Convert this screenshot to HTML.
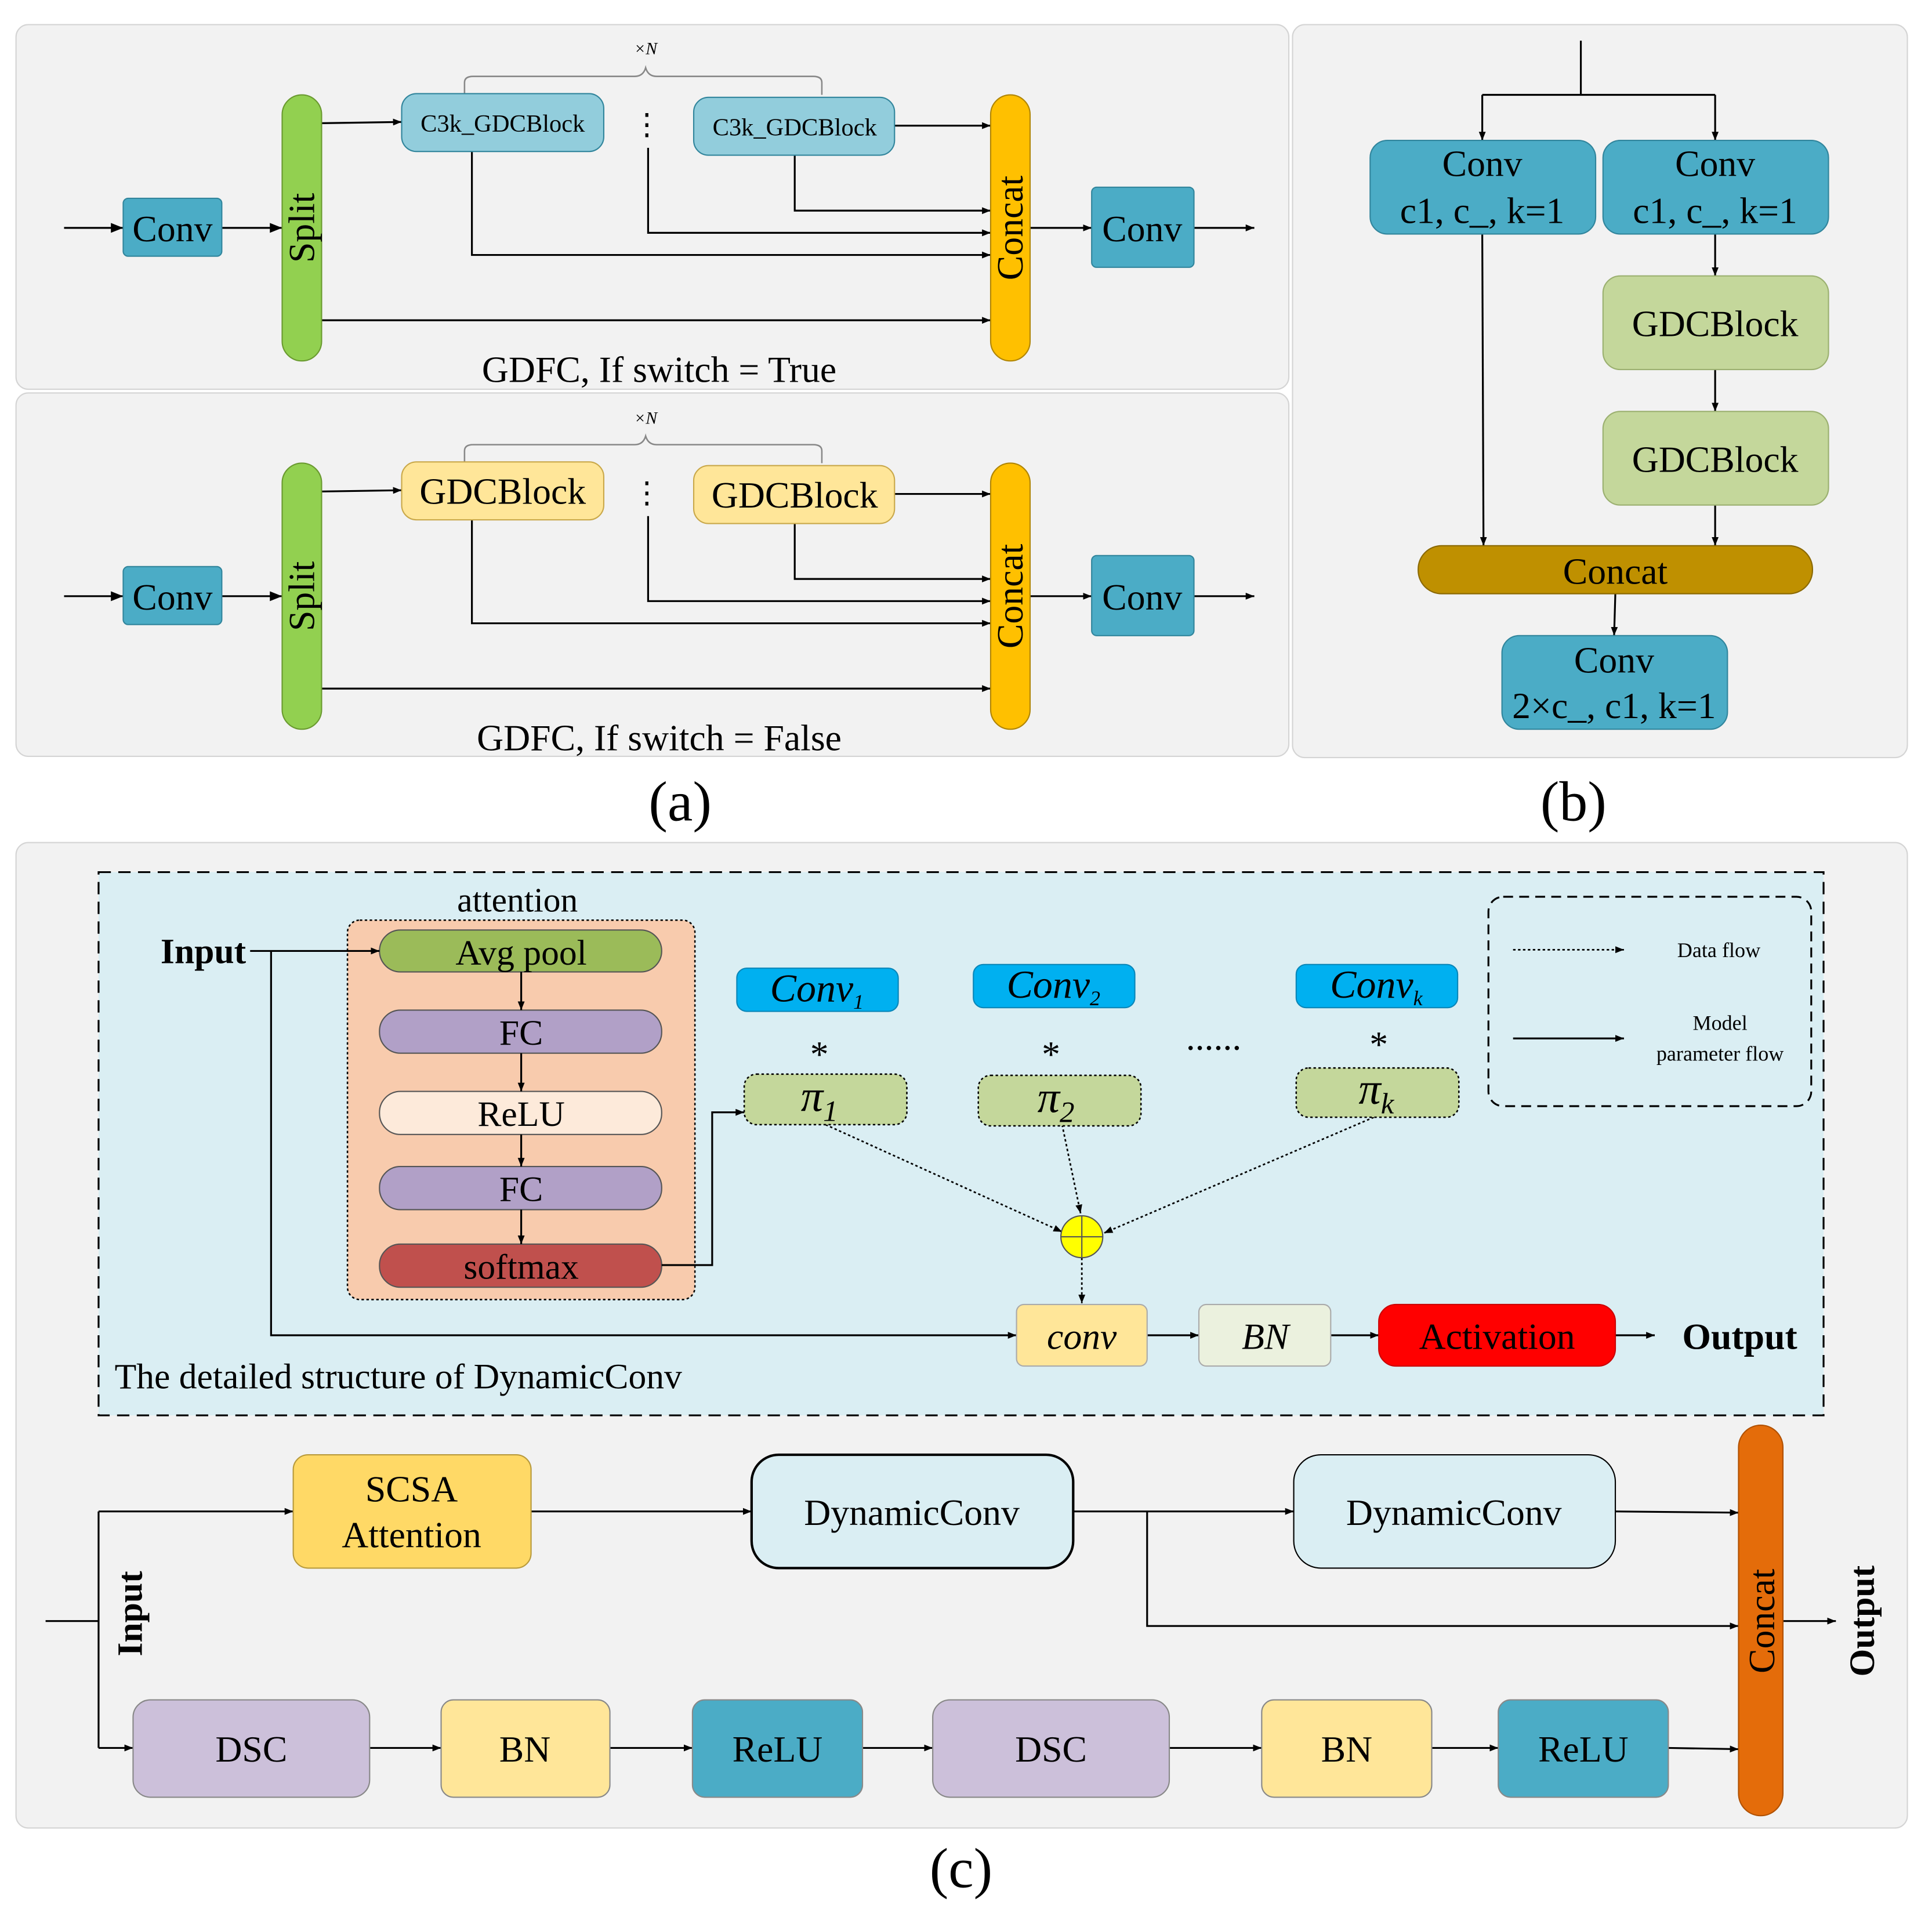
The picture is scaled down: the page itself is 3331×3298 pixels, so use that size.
<!DOCTYPE html>
<html><head><meta charset="utf-8">
<style>
html,body{margin:0;padding:0;background:#fff;}
svg{display:block;}
text{font-family:"Liberation Serif","Times New Roman",serif;}
</style></head>
<body>
<svg width="3331" height="3298" viewBox="0 0 1568 1553" preserveAspectRatio="none" xmlns="http://www.w3.org/2000/svg">
<defs>
<marker id="ar" viewBox="0 0 10 10" refX="10" refY="5" markerWidth="7" markerHeight="7" orient="auto" markerUnits="userSpaceOnUse">
<path d="M0,1 L10,5 L0,9 z" fill="#000"/></marker>
<marker id="ar2" viewBox="0 0 10 10" refX="10" refY="5" markerWidth="12" markerHeight="10" orient="auto" markerUnits="userSpaceOnUse">
<path d="M0,1 L10,5 L0,9 z" fill="#000"/></marker>
</defs>
<rect width="1600" height="1600" fill="#fff"/>
<rect x="13" y="20" width="1033" height="296" rx="10" fill="#f2f2f2" stroke="#d4d4d4"/>
<rect x="13" y="319" width="1033" height="295" rx="10" fill="#f2f2f2" stroke="#d4d4d4"/>
<rect x="1049" y="20" width="499" height="595" rx="10" fill="#f2f2f2" stroke="#d4d4d4"/>
<rect x="13" y="684" width="1535" height="800" rx="10" fill="#f2f2f2" stroke="#d4d4d4"/>
<text x="552" y="666" font-size="46" text-anchor="middle">(a)</text>
<text x="1277" y="666" font-size="46" text-anchor="middle">(b)</text>
<text x="780" y="1532" font-size="46" text-anchor="middle">(c)</text>

<g stroke="#000" stroke-width="1.5" fill="none">
<line x1="52" y1="185" x2="100" y2="185" marker-end="url(#ar2)"/>
<line x1="180" y1="185" x2="229" y2="185" marker-end="url(#ar2)"/>
<line x1="261" y1="100" x2="326" y2="99" marker-end="url(#ar)"/>
<line x1="726" y1="102" x2="804" y2="102" marker-end="url(#ar)"/>
<polyline points="645,126 645,171 804,171" marker-end="url(#ar)"/>
<polyline points="526,120 526,189 804,189" marker-end="url(#ar)"/>
<polyline points="383,123 383,207 804,207" marker-end="url(#ar)"/>
<line x1="261" y1="260" x2="804" y2="260" marker-end="url(#ar)"/>
<line x1="836" y1="185" x2="886" y2="185" marker-end="url(#ar)"/>
<line x1="969" y1="185" x2="1018" y2="185" marker-end="url(#ar)"/>
<line x1="52" y1="484" x2="100" y2="484" marker-end="url(#ar2)"/>
<line x1="180" y1="484" x2="229" y2="484" marker-end="url(#ar2)"/>
<line x1="261" y1="399" x2="326" y2="398" marker-end="url(#ar)"/>
<line x1="726" y1="401" x2="804" y2="401" marker-end="url(#ar)"/>
<polyline points="645,425 645,470 804,470" marker-end="url(#ar)"/>
<polyline points="526,419 526,488 804,488" marker-end="url(#ar)"/>
<polyline points="383,422 383,506 804,506" marker-end="url(#ar)"/>
<line x1="261" y1="559" x2="804" y2="559" marker-end="url(#ar)"/>
<line x1="836" y1="484" x2="886" y2="484" marker-end="url(#ar)"/>
<line x1="969" y1="484" x2="1018" y2="484" marker-end="url(#ar)"/>
<polyline points="1283,33 1283,77"/>
<line x1="1203" y1="77" x2="1392" y2="77"/>
<line x1="1203" y1="77" x2="1203" y2="114" marker-end="url(#ar)"/>
<line x1="1392" y1="77" x2="1392" y2="114" marker-end="url(#ar)"/>
<line x1="1203" y1="190" x2="1204" y2="443" marker-end="url(#ar)"/>
<line x1="1392" y1="190" x2="1392" y2="224" marker-end="url(#ar)"/>
<line x1="1392" y1="300" x2="1392" y2="334" marker-end="url(#ar)"/>
<line x1="1392" y1="410" x2="1392" y2="443" marker-end="url(#ar)"/>
<line x1="1311" y1="482" x2="1310" y2="516" marker-end="url(#ar)"/>
</g>
<g stroke="#888" stroke-width="1.2" fill="none">
<path d="M377,77 L377,67 Q377,62 384,62 L515,62 Q522,62 524,55 Q526,62 533,62 L660,62 Q667,62 667,67 L667,77"/>
<path d="M377,376 L377,366 Q377,361 384,361 L515,361 Q522,361 524,354 Q526,361 533,361 L660,361 Q667,361 667,366 L667,376"/>
</g>
<text x="524" y="44" font-size="14" font-style="italic" text-anchor="middle">×N</text>
<text x="524" y="344" font-size="14" font-style="italic" text-anchor="middle">×N</text>
<text x="525" y="109" font-size="24" text-anchor="middle">⋮</text>
<text x="525" y="408" font-size="24" text-anchor="middle">⋮</text>

<g stroke="#31859c" stroke-width="1">
<rect x="100" y="161" width="80" height="47" rx="4" fill="#4bacc6"/>
<rect x="886" y="152" width="83" height="65" rx="4" fill="#4bacc6"/>
<rect x="100" y="460" width="80" height="47" rx="4" fill="#4bacc6"/>
<rect x="886" y="451" width="83" height="65" rx="4" fill="#4bacc6"/>
<rect x="326" y="76" width="164" height="47" rx="12" fill="#92cddc"/>
<rect x="563" y="79" width="163" height="47" rx="12" fill="#92cddc"/>
</g>
<rect x="229" y="77" width="32" height="216" rx="16" fill="#92d050" stroke="#6a9a30"/>
<rect x="804" y="77" width="32" height="216" rx="16" fill="#ffc000" stroke="#b08500"/>
<rect x="229" y="376" width="32" height="216" rx="16" fill="#92d050" stroke="#6a9a30"/>
<rect x="804" y="376" width="32" height="216" rx="16" fill="#ffc000" stroke="#b08500"/>
<rect x="326" y="375" width="164" height="47" rx="12" fill="#ffe699" stroke="#c9a84a"/>
<rect x="563" y="378" width="163" height="47" rx="12" fill="#ffe699" stroke="#c9a84a"/>
<g font-size="30" text-anchor="middle">
<text x="140" y="196">Conv</text><text x="927" y="196">Conv</text>
<text x="140" y="495">Conv</text><text x="927" y="495">Conv</text>
<text x="408" y="409">GDCBlock</text><text x="645" y="412">GDCBlock</text>
<text transform="translate(255,185) rotate(-90)">Split</text>
<text transform="translate(830,185) rotate(-90)">Concat</text>
<text transform="translate(255,484) rotate(-90)">Split</text>
<text transform="translate(830,484) rotate(-90)">Concat</text>
</g>
<g font-size="20" text-anchor="middle">
<text x="408" y="107">C3k_GDCBlock</text><text x="645" y="110">C3k_GDCBlock</text>
</g>
<text x="535" y="310" font-size="30" text-anchor="middle">GDFC, If switch = True</text>
<text x="535" y="609" font-size="30" text-anchor="middle">GDFC, If switch = False</text>

<g stroke="#31859c">
<rect x="1112" y="114" width="183" height="76" rx="14" fill="#4bacc6"/>
<rect x="1301" y="114" width="183" height="76" rx="14" fill="#4bacc6"/>
<rect x="1219" y="516" width="183" height="76" rx="14" fill="#4bacc6"/>
</g>
<rect x="1301" y="224" width="183" height="76" rx="14" fill="#c4d79b" stroke="#9bb070"/>
<rect x="1301" y="334" width="183" height="76" rx="14" fill="#c4d79b" stroke="#9bb070"/>
<rect x="1151" y="443" width="320" height="39" rx="19" fill="#bf9000" stroke="#8a6800"/>
<g font-size="30" text-anchor="middle">
<text x="1203" y="143">Conv</text><text x="1203" y="181">c1, c_, k=1</text>
<text x="1392" y="143">Conv</text><text x="1392" y="181">c1, c_, k=1</text>
<text x="1392" y="273">GDCBlock</text><text x="1392" y="383">GDCBlock</text>
<text x="1311" y="474">Concat</text>
<text x="1310" y="546">Conv</text><text x="1310" y="583">2×c_, c1, k=1</text>
</g>

<rect x="80" y="708" width="1400" height="441" fill="#daeef3" stroke="#000" stroke-width="1.5" stroke-dasharray="10,6"/>
<text x="420" y="740" font-size="28" text-anchor="middle">attention</text>
<rect x="282" y="747" width="282" height="308" rx="10" fill="#f8cbad" stroke="#000" stroke-width="1.2" stroke-dasharray="2,2"/>
<g stroke="#555" stroke-width="1">
<rect x="308" y="755" width="229" height="34" rx="17" fill="#9bbb59"/>
<rect x="308" y="820" width="229" height="35" rx="17" fill="#b1a0c7"/>
<rect x="308" y="886" width="229" height="35" rx="17" fill="#fdeada"/>
<rect x="308" y="947" width="229" height="35" rx="17" fill="#b1a0c7"/>
<rect x="308" y="1010" width="229" height="35" rx="17" fill="#c0504d"/>
</g>
<g font-size="29" text-anchor="middle">
<text x="423" y="783">Avg pool</text><text x="423" y="848">FC</text>
<text x="423" y="914">ReLU</text><text x="423" y="975">FC</text><text x="423" y="1038">softmax</text>
</g>
<g stroke="#000" stroke-width="1.5" fill="none">
<line x1="423" y1="789" x2="423" y2="820" marker-end="url(#ar)"/>
<line x1="423" y1="855" x2="423" y2="886" marker-end="url(#ar)"/>
<line x1="423" y1="921" x2="423" y2="947" marker-end="url(#ar)"/>
<line x1="423" y1="982" x2="423" y2="1010" marker-end="url(#ar)"/>
<line x1="203" y1="772" x2="308" y2="772" marker-end="url(#ar)"/>
<polyline points="220,772 220,1084 825,1084" marker-end="url(#ar)"/>
<polyline points="537,1027 578,1027 578,903 604,903" marker-end="url(#ar)"/>
<line x1="931" y1="1084" x2="973" y2="1084" marker-end="url(#ar)"/>
<line x1="1080" y1="1084" x2="1119" y2="1084" marker-end="url(#ar)"/>
<line x1="1311" y1="1084" x2="1343" y2="1084" marker-end="url(#ar)"/>
<line x1="1228" y1="843" x2="1318" y2="843" marker-end="url(#ar)"/>
</g>
<g stroke="#000" stroke-width="1.3" fill="none" stroke-dasharray="2,2">
<line x1="670" y1="913" x2="862" y2="1000" marker-end="url(#ar)"/>
<line x1="862" y1="913" x2="877" y2="985" marker-end="url(#ar)"/>
<line x1="1115" y1="907" x2="896" y2="1001" marker-end="url(#ar)"/>
<line x1="878" y1="1021" x2="878" y2="1058" marker-end="url(#ar)"/>
<line x1="1228" y1="771" x2="1318" y2="771" marker-end="url(#ar)"/>
</g>
<text x="165" y="782" font-size="29" font-weight="bold" text-anchor="middle">Input</text>
<g fill="#00b0f0" stroke="#0a86b8">
<rect x="598" y="786" width="131" height="35" rx="8"/>
<rect x="790" y="783" width="131" height="35" rx="8"/>
<rect x="1052" y="783" width="131" height="35" rx="8"/>
</g>
<g font-size="32" font-style="italic" text-anchor="middle">
<text x="663" y="813">Conv<tspan font-size="17" dy="6">1</tspan></text>
<text x="855" y="810">Conv<tspan font-size="17" dy="6">2</tspan></text>
<text x="1117" y="810">Conv<tspan font-size="17" dy="6">k</tspan></text>
</g>
<g font-size="30" text-anchor="middle">
<text x="665" y="866">*</text><text x="853" y="866">*</text><text x="1119" y="858">*</text>
<text x="985" y="852">......</text>
</g>
<g fill="#c4d79b" stroke="#000" stroke-width="1.2" stroke-dasharray="2,2">
<rect x="604" y="872" width="132" height="41" rx="10"/>
<rect x="794" y="873" width="132" height="41" rx="10"/>
<rect x="1052" y="867" width="132" height="40" rx="10"/>
</g>
<g font-size="36" font-style="italic" text-anchor="middle">
<text x="665" y="902">π<tspan font-size="24" dy="8">1</tspan></text>
<text x="857" y="903">π<tspan font-size="24" dy="8">2</tspan></text>
<text x="1117" y="896">π<tspan font-size="24" dy="8">k</tspan></text>
</g>
<circle cx="878" cy="1004" r="17" fill="#ffff00" stroke="#555"/>
<line x1="861" y1="1004" x2="895" y2="1004" stroke="#555"/>
<line x1="878" y1="987" x2="878" y2="1021" stroke="#555"/>
<rect x="825" y="1059" width="106" height="50" rx="6" fill="#ffe699" stroke="#aaa"/>
<rect x="973" y="1059" width="107" height="50" rx="6" fill="#ebf1de" stroke="#aaa"/>
<rect x="1119" y="1059" width="192" height="50" rx="14" fill="#ff0000" stroke="#c00"/>
<text x="878" y="1095" font-size="30" font-style="italic" text-anchor="middle">conv</text>
<text x="1027" y="1095" font-size="30" font-style="italic" text-anchor="middle">BN</text>
<text x="1215" y="1095" font-size="30" text-anchor="middle">Activation</text>
<text x="1412" y="1095" font-size="30" font-weight="bold" text-anchor="middle">Output</text>
<rect x="1208" y="728" width="262" height="170" rx="12" fill="none" stroke="#000" stroke-width="1.5" stroke-dasharray="8,5"/>
<g font-size="17" text-anchor="middle">
<text x="1395" y="777">Data flow</text>
<text x="1396" y="836">Model</text>
<text x="1396" y="861">parameter flow</text>
</g>
<text x="93" y="1127" font-size="29">The detailed structure of DynamicConv</text>

<g stroke="#000" stroke-width="1.5" fill="none">
<line x1="37" y1="1316" x2="80" y2="1316"/>
<line x1="80" y1="1227" x2="80" y2="1419"/>
<line x1="80" y1="1227" x2="238" y2="1227" marker-end="url(#ar)"/>
<line x1="80" y1="1419" x2="108" y2="1419" marker-end="url(#ar)"/>
<line x1="431" y1="1227" x2="610" y2="1227" marker-end="url(#ar)"/>
<line x1="871" y1="1227" x2="1050" y2="1227" marker-end="url(#ar)"/>
<line x1="1311" y1="1227" x2="1411" y2="1228" marker-end="url(#ar)"/>
<polyline points="931,1227 931,1320 1411,1320" marker-end="url(#ar)"/>
<line x1="1447" y1="1316" x2="1490" y2="1316" marker-end="url(#ar)"/>
<line x1="300" y1="1419" x2="358" y2="1419" marker-end="url(#ar)"/>
<line x1="495" y1="1419" x2="562" y2="1419" marker-end="url(#ar)"/>
<line x1="700" y1="1419" x2="757" y2="1419" marker-end="url(#ar)"/>
<line x1="949" y1="1419" x2="1024" y2="1419" marker-end="url(#ar)"/>
<line x1="1162" y1="1419" x2="1216" y2="1419" marker-end="url(#ar)"/>
<line x1="1354" y1="1419" x2="1411" y2="1420" marker-end="url(#ar)"/>
</g>
<text transform="translate(115,1310) rotate(-90)" font-size="29" font-weight="bold" text-anchor="middle">Input</text>
<text transform="translate(1521,1316) rotate(-90)" font-size="29" font-weight="bold" text-anchor="middle">Output</text>
<rect x="238" y="1181" width="193" height="92" rx="12" fill="#ffd966" stroke="#b89a3c"/>
<rect x="610" y="1181" width="261" height="92" rx="22" fill="#daeef3" stroke="#000" stroke-width="2"/>
<rect x="1050" y="1181" width="261" height="92" rx="22" fill="#daeef3" stroke="#000" stroke-width="1"/>
<rect x="1411" y="1157" width="36" height="317" rx="18" fill="#e46c0a" stroke="#b05000"/>
<g stroke="#888">
<rect x="108" y="1380" width="192" height="79" rx="14" fill="#ccc0da"/>
<rect x="358" y="1380" width="137" height="79" rx="10" fill="#ffe699"/>
<rect x="562" y="1380" width="138" height="79" rx="10" fill="#4bacc6"/>
<rect x="757" y="1380" width="192" height="79" rx="14" fill="#ccc0da"/>
<rect x="1024" y="1380" width="138" height="79" rx="10" fill="#ffe699"/>
<rect x="1216" y="1380" width="138" height="79" rx="10" fill="#4bacc6"/>
</g>
<g font-size="30" text-anchor="middle">
<text x="334" y="1219">SCSA</text><text x="334" y="1256">Attention</text>
<text x="740" y="1238">DynamicConv</text><text x="1180" y="1238">DynamicConv</text>
<text transform="translate(1440,1316) rotate(-90)">Concat</text>
<text x="204" y="1430">DSC</text><text x="426" y="1430">BN</text><text x="631" y="1430">ReLU</text>
<text x="853" y="1430">DSC</text><text x="1093" y="1430">BN</text><text x="1285" y="1430">ReLU</text>
</g>
</svg>
</body></html>
